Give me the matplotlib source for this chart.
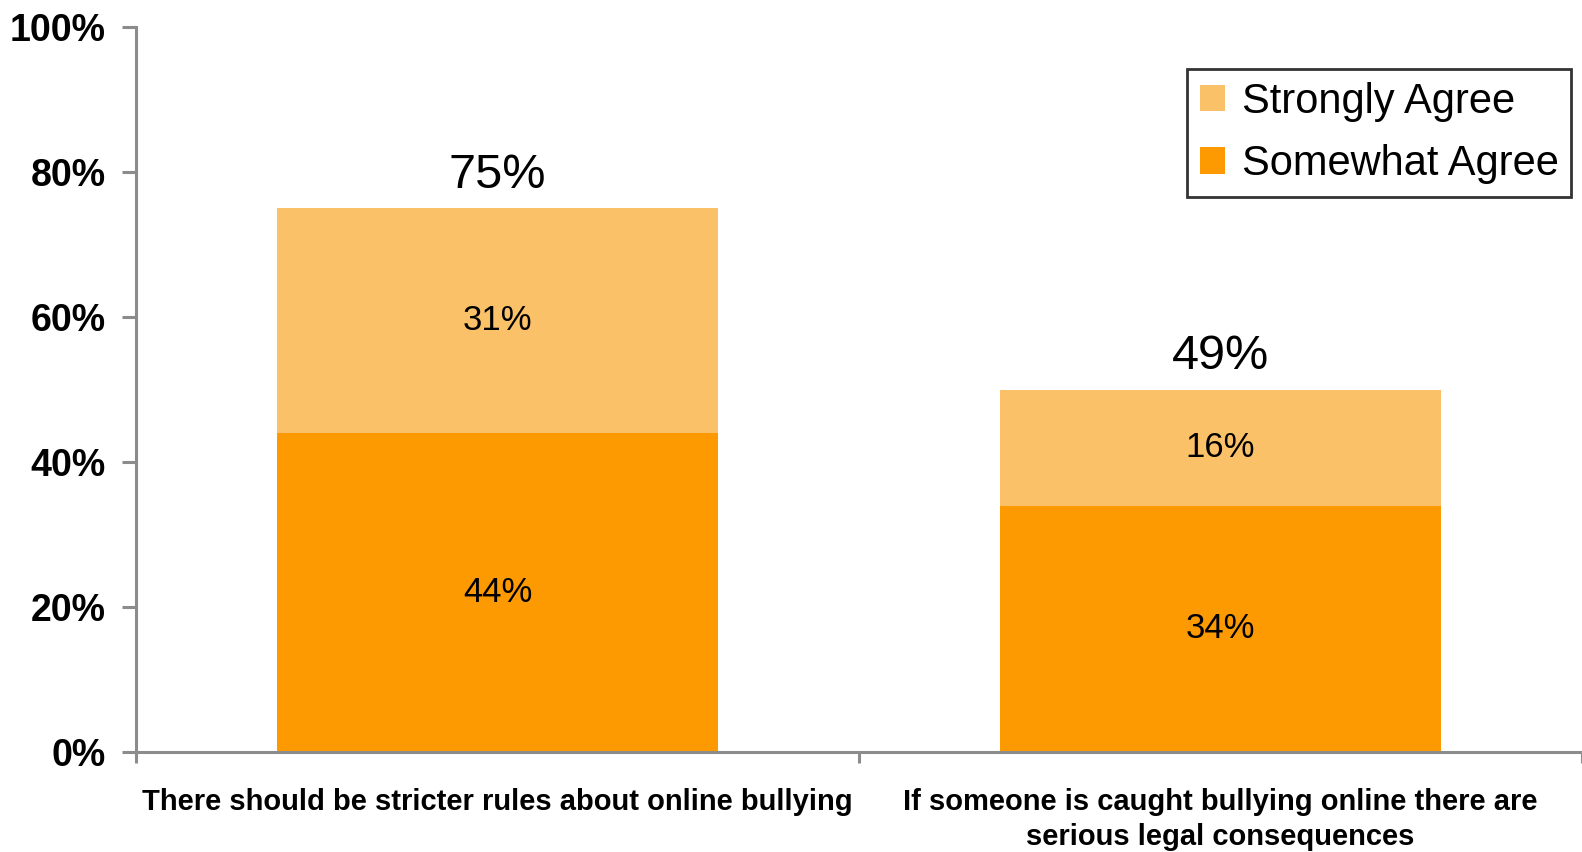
import matplotlib
matplotlib.use("Agg")
import matplotlib.pyplot as plt
import numpy as np

# data
categories = ["There should be stricter rules about online bullying",
              "If someone is caught bullying online there are\nserious legal consequences"]
somewhat_agree = [44, 34]
strongly_agree = [31, 16]
totals = ["75%", "49%"]
series_names = ["Strongly Agree", "Somewhat Agree"]

light_orange = "#FBC169"
dark_orange = "#FD9A01"
axis_gray = "#8C8C8C"

plt.rcParams['font.family'] = ['Liberation Sans', 'DejaVu Sans']

fig = plt.figure(figsize=(15.82, 8.52), dpi=100)
ax = fig.add_axes([0.086, 0.1174, 0.914, 0.8506])

x = np.arange(len(categories))
width = 0.61
b1 = ax.bar(x, somewhat_agree, width, color=dark_orange, label=series_names[1], zorder=2)
b2 = ax.bar(x, strongly_agree, width, bottom=somewhat_agree, color=light_orange,
            label=series_names[0], zorder=2)

# segment labels
for i in range(len(x)):
    ax.text(x[i], somewhat_agree[i] / 2, f"{somewhat_agree[i]}%", ha='center', va='center', fontsize=25)
    ax.text(x[i], somewhat_agree[i] + strongly_agree[i] / 2, f"{strongly_agree[i]}%",
            ha='center', va='center', fontsize=25)
    ax.text(x[i], somewhat_agree[i] + strongly_agree[i] + 1.5, totals[i],
            ha='center', va='bottom', fontsize=35)

ax.set_xlim(-0.5, 1.5)
ax.set_ylim(0, 100)
ax.set_yticks(np.arange(0, 101, 20))
ax.set_yticklabels([f"{v}%" for v in range(0, 101, 20)], fontsize=27, fontweight='bold')
ax.tick_params(axis='y', length=10, width=2.2, color=axis_gray, pad=12)

# category ticks sit between the groups
ax.set_xticks([-0.5, 0.5, 1.5])
ax.set_xticklabels([])
ax.set_xticks(x, minor=True)
ax.set_xticklabels(categories, minor=True, fontsize=21, fontweight='bold', linespacing=1.3)
ax.tick_params(axis='x', which='major', length=8, width=2.2, color=axis_gray)
ax.tick_params(axis='x', which='minor', length=0, pad=26)

for s in ['top', 'right']:
    ax.spines[s].set_visible(False)
for s in ['left', 'bottom']:
    ax.spines[s].set_color(axis_gray)
    ax.spines[s].set_linewidth(2.2)

handles = [b2, b1]
leg = fig.legend(handles, series_names, loc='upper right', bbox_to_anchor=(1571 / 1582, 1 - 69 / 852),
                 fontsize=30, frameon=True, fancybox=False, edgecolor='black',
                 handlelength=0.6, handleheight=0.6, handletextpad=0.4, borderpad=0.3,
                 labelspacing=0.55, borderaxespad=0)
leg.get_frame().set_linewidth(2)

fig.savefig("out.png", dpi=100)
